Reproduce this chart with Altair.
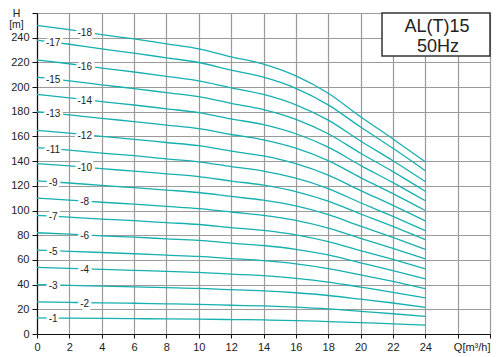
import altair as alt
import pandas as pd

# ---- data ----
q_values = [0, 2, 4, 6, 8, 10, 12, 14, 16, 18, 20, 22, 24]

stage_1 = [13.0, 12.8, 12.6, 12.4, 12.2, 12.0, 11.7, 11.4, 10.9, 10.1, 9.2, 8.2, 7.2]
stage_2 = [26.0, 25.6, 25.2, 24.9, 24.4, 24.0, 23.3, 22.7, 21.7, 20.3, 18.3, 16.4, 14.3]
stage_3 = [40.0, 39.4, 38.8, 38.2, 37.6, 37.0, 35.9, 35.0, 33.4, 31.2, 28.2, 25.1, 21.5]
stage_4 = [54.0, 53.2, 52.4, 51.6, 50.8, 49.9, 48.5, 47.2, 45.1, 42.1, 38.0, 33.8, 29.2]
stage_5 = [68.0, 67.0, 66.0, 65.0, 63.9, 62.8, 61.1, 59.4, 56.8, 53.0, 47.9, 42.6, 36.8]
stage_6 = [82.0, 80.9, 79.5, 78.4, 77.1, 75.8, 73.6, 71.7, 68.6, 64.0, 57.7, 51.4, 44.6]
stage_7 = [96.0, 94.7, 93.1, 91.8, 90.2, 88.7, 86.2, 83.9, 80.3, 74.9, 67.6, 60.4, 52.8]
stage_8 = [110.0, 108.5, 106.7, 105.2, 103.4, 101.6, 98.8, 96.1, 92.0, 85.8, 77.4, 69.3, 60.8]
stage_9 = [124.0, 122.3, 120.3, 118.5, 116.6, 114.6, 111.4, 108.4, 103.7, 96.7, 87.3, 78.2, 68.6]
stage_10 = [138.0, 136.1, 133.9, 131.9, 129.7, 127.5, 123.9, 120.6, 115.4, 107.6, 97.2, 87.1, 76.5]
stage_11 = [151.0, 148.9, 146.5, 144.4, 141.9, 139.5, 135.6, 132.0, 126.2, 117.8, 106.3, 95.3, 83.8]
stage_12 = [165.0, 162.7, 160.1, 157.7, 155.1, 152.5, 148.2, 144.2, 137.9, 128.7, 116.2, 104.2, 91.6]
stage_13 = [180.0, 177.5, 174.6, 172.1, 169.2, 166.3, 161.6, 157.3, 150.5, 140.4, 126.7, 113.7, 100.0]
stage_14 = [194.0, 191.3, 188.2, 185.5, 182.4, 179.3, 174.2, 169.6, 162.2, 151.3, 136.6, 122.6, 107.9]
stage_15 = [208.0, 205.1, 201.8, 198.8, 195.5, 192.2, 186.8, 181.8, 173.9, 162.2, 146.4, 131.5, 115.6]
stage_16 = [222.0, 218.9, 215.3, 212.2, 208.7, 205.1, 199.4, 194.0, 185.6, 173.2, 156.3, 140.3, 123.4]
stage_17 = [238.0, 234.7, 230.9, 227.5, 223.7, 219.9, 213.7, 208.0, 199.0, 185.6, 167.6, 150.4, 132.3]
stage_18 = [250.0, 246.5, 242.5, 239.0, 235.0, 231.0, 224.5, 218.5, 209.0, 195.0, 176.0, 158.0, 139.5]

stage_heads = [stage_1, stage_2, stage_3, stage_4, stage_5, stage_6, stage_7, stage_8, stage_9,
               stage_10, stage_11, stage_12, stage_13, stage_14, stage_15, stage_16, stage_17, stage_18]

label_stage = list(range(1, 19))
label_q = [1.0, 2.95, 1.0, 2.95, 1.0, 2.95, 1.0, 2.95, 1.0, 2.95, 1.0, 2.95, 1.0, 2.95, 1.0, 2.95, 1.0, 2.95]
label_h = [12.9, 25.4, 39.7, 52.8, 67.5, 80.2, 95.3, 107.6, 123.1, 135.0, 149.9, 161.4,
           178.7, 189.7, 206.5, 217.1, 236.3, 244.5]

x_ticks = [0, 2, 4, 6, 8, 10, 12, 14, 16, 18, 20, 22, 24, 26, 28]
y_ticks = [0, 20, 40, 60, 80, 100, 120, 140, 160, 180, 200, 220, 240, 260]
title_lines = ["AL(T)15", "50Hz"]

# ---- tables ----
rows = []
for s, heads in zip(label_stage, stage_heads):
    for q, h in zip(q_values, heads):
        rows.append({"stage": s, "Q": q, "H": h})
curves = pd.DataFrame(rows)

labels = pd.DataFrame({
    "stage": label_stage,
    "Q": label_q,
    "H": label_h,
    "text": ["-%d" % s for s in label_stage],
})

TEAL = "#17AFAF"
FONT = "Liberation Sans"

x_scale = alt.Scale(domain=[0, 28], nice=False, zero=False)
y_scale = alt.Scale(domain=[0, 260], nice=False, zero=False)

x_axis = alt.Axis(
    values=x_ticks,
    labelExpr="datum.value == 28 ? 'Q[m³/h]' : (datum.value == 26 ? '' : datum.label)",
    labelAlign={"condition": {"test": "datum.value == 28", "value": "right"}, "value": "center"},
    labelFlush=False,
    labelOverlap=False,
    title=None,
    grid=True,
    tickSize=4,
    labelPadding=3,
)
y_axis = alt.Axis(
    values=y_ticks,
    labelExpr="datum.value == 260 ? '' : datum.label",
    labelFlush=False,
    labelOverlap=False,
    grid=True,
    tickSize=5,
    labelPadding=3,
    title=["H", "[m]"],
    titleAngle=0,
    titleX=-21,
    titleY=-5,
    titleAlign="center",
    titleBaseline="top",
    titleFontWeight="normal",
    titleFontSize=10.5,
    titleLineHeight=11,
    titleFont=FONT,
    titleColor="#222",
)

X = alt.X("Q:Q", scale=x_scale, axis=x_axis)
Y = alt.Y("H:Q", scale=y_scale, axis=y_axis)

lines = alt.Chart(curves).mark_line(
    color=TEAL, strokeWidth=1.3, interpolate="monotone"
).encode(x=X, y=Y, detail="stage:N")

one = pd.DataFrame({"k": [0]})

box = alt.Chart(one).mark_rect(fill="white", stroke="#333", strokeWidth=1.5).encode(
    x=alt.value(345), x2=alt.value(453), y=alt.value(0), y2=alt.value(43)
)

halo = alt.Chart(labels).mark_text(
    font=FONT, fontSize=10, color="white", stroke="white", strokeWidth=6,
    strokeJoin="round", dy=1
).encode(x=X, y=Y, text="text:N")

label_text = alt.Chart(labels).mark_text(
    font=FONT, fontSize=10, color="#222", dy=1
).encode(x=X, y=Y, text="text:N")

title1 = alt.Chart(one).mark_text(
    text=title_lines[0], font=FONT, fontSize=18, color="#222", baseline="alphabetic", align="center"
).encode(x=alt.value(400), y=alt.value(19))
title2 = alt.Chart(one).mark_text(
    text=title_lines[1], font=FONT, fontSize=18, color="#222", baseline="alphabetic", align="center"
).encode(x=alt.value(401), y=alt.value(39))

chart = alt.layer(lines, box, halo, label_text, title1, title2).properties(
    width=453,
    height=321,
    autosize=alt.AutoSizeParams(type="none"),
    padding={"left": 29, "top": 5, "right": 2, "bottom": 22},
).configure_view(
    stroke="#555", strokeWidth=1
).configure_axis(
    gridColor="#9a9a9a",
    gridWidth=1.2,
    gridOpacity=1,
    domainColor="#111",
    domainWidth=1.2,
    tickColor="#111",
    tickWidth=1,
    labelFont=FONT,
    labelFontSize=11,
    labelColor="#222",
    labelOverlap=False,
)

chart.save("out.html", embed_options={"renderer": "svg", "actions": False})
